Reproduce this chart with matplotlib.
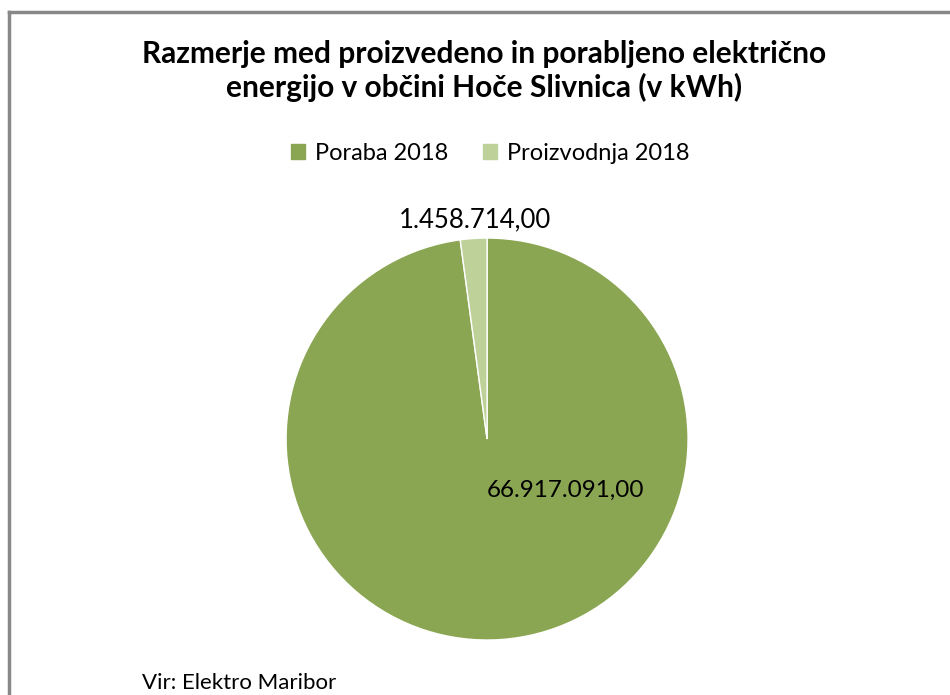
import matplotlib.pyplot as plt
import numpy as np
from matplotlib.patches import Rectangle

plt.rcParams['font.family'] = ['Lato', 'DejaVu Sans']

labels = ['Poraba 2018', 'Proizvodnja 2018']
values = [66917091.00, 1458714.00]
value_text = ['66.917.091,00', '1.458.714,00']
colors = ['#8aa652', '#bdd199']

fig = plt.figure(figsize=(9.5, 6.95), dpi=100)

# outer frame (only top and left visible in the crop)
fig.add_artist(plt.Line2D([0.0095, 0.0095], [0, 0.983], color='#888888', lw=2.5,
                          transform=fig.transFigure))
fig.add_artist(plt.Line2D([0.0095, 1.0], [0.983, 0.983], color='#888888', lw=2.5,
                          transform=fig.transFigure))

ax = fig.add_axes([0.3011, 0.0791, 0.4232, 0.5784])
wedges, _ = ax.pie(values, colors=colors, startangle=90, counterclock=False,
                   wedgeprops=dict(edgecolor='white', linewidth=1))
ax.set_xlim(-1, 1)
ax.set_ylim(-1, 1)
ax.set_aspect('equal')
ax.axis('off')

# data labels
ax.text(0.39, -0.255, value_text[0], ha='center', va='center', fontsize=17.5)
w = wedges[1]
mid = np.deg2rad((w.theta1 + w.theta2) / 2)
ax.text(0.9 * np.cos(mid), 1.095 * np.sin(mid), value_text[1], ha='center', va='center',
        fontsize=18.5, clip_on=False)

fig.text(0.51, 0.898, 'Razmerje med proizvedeno in porabljeno električno\nenergijo v občini Hoče Slivnica (v kWh)',
         ha='center', va='center', fontsize=21.5, fontweight='bold', linespacing=1.22)

handles = [Rectangle((0, 0), 1, 1, color=c) for c in colors]
fig.legend(handles, labels, loc='center', bbox_to_anchor=(0.516, 0.779), ncol=2,
           frameon=False, fontsize=17, handlelength=0.6, handleheight=0.6,
           handletextpad=0.4, columnspacing=1.5)

fig.text(0.149, 0.017, 'Vir: Elektro Maribor', ha='left', va='center', fontsize=16)

fig.savefig('out.png', dpi=100)
